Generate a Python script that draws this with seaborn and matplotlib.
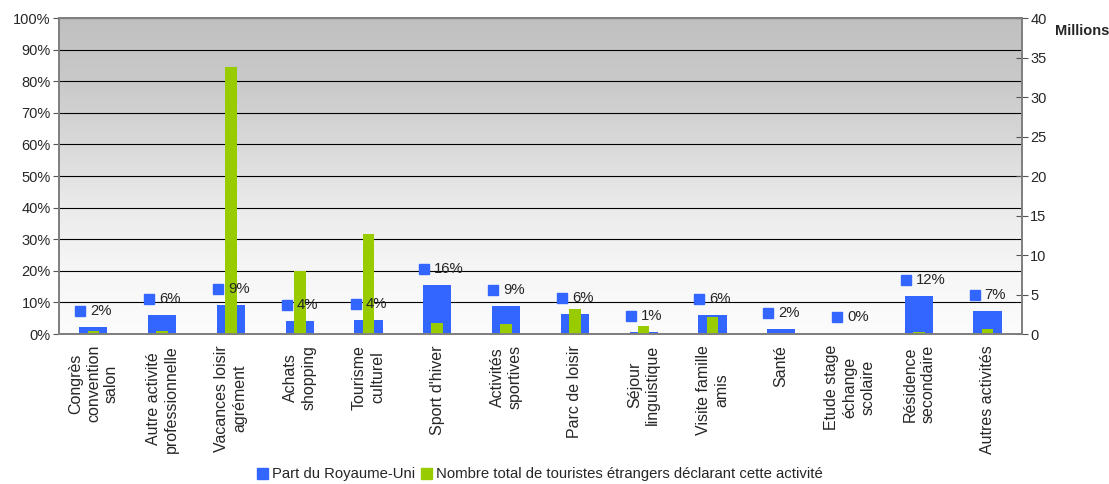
import numpy as np
import pandas as pd
import matplotlib
matplotlib.use("Agg")
import matplotlib.pyplot as plt
import matplotlib.transforms as mtransforms
from matplotlib.colors import LinearSegmentedColormap
from matplotlib.patches import Patch
from matplotlib.ticker import FuncFormatter, MultipleLocator
import seaborn as sns

sns.set_style("white")
plt.rcParams['font.family'] = ['Liberation Sans', 'DejaVu Sans']

# données
categories = ["Congrès\nconvention\nsalon", "Autre activité\nprofessionnelle",
              "Vacances loisir\nagrément", "Achats\nshopping", "Tourisme\nculturel",
              "Sport d'hiver", "Activités\nsportives", "Parc de loisir",
              "Séjour\nlinguistique", "Visite famille\namis", "Santé",
              "Etude stage\néchange\nscolaire", "Résidence\nsecondaire", "Autres activités"]
part_ru = [2.2, 6.0, 9.2, 4.1, 4.4, 15.6, 8.9, 6.3, 0.6, 6.0, 1.6, 0.3, 12.0, 7.3]  # %
total_touristes = [0.4, 0.4, 33.8, 8.0, 12.7, 1.4, 1.3, 3.2, 1.0, 2.2, 0.05, 0.0, 0.25, 0.6]  # millions

serie_ru = "Part du Royaume-Uni"
serie_tot = "Nombre total de touristes étrangers déclarant cette activité"
blue = "#3366FF"
green = "#99CC00"

df = pd.DataFrame({"cat": categories, "part": part_ru, "total": total_touristes})

fig = plt.figure(figsize=(11.09, 4.84), dpi=100)
ax = fig.add_axes([0.0532, 0.3099, 0.9215 - 0.0532, 0.9628 - 0.3099])
ax2 = ax.twinx()

sns.barplot(data=df, x="cat", y="part", ax=ax, color=blue, saturation=1, width=0.41,
            linewidth=0, edgecolor="none", zorder=2)
sns.barplot(data=df, x="cat", y="total", ax=ax2, color=green, saturation=1, width=0.17,
            linewidth=0, edgecolor="none", zorder=2)

n = len(categories)
ax.set_xlim(-0.5, n - 0.5)
ax.set_ylim(0, 100)
ax2.set_ylim(0, 40)

# fond dégradé gris -> blanc
cmap = LinearSegmentedColormap.from_list(
    "fond", [(0, "#fcfcfc"), (0.2, "#f6f6f6"), (0.4, "#ebebeb"),
             (0.6, "#d9d9d9"), (0.8, "#c9c9c9"), (1, "#c0c0c0")])
grad = np.linspace(0, 1, 256).reshape(-1, 1)
ax.imshow(grad, extent=[-0.5, n - 0.5, 0, 100], origin="lower", aspect="auto",
          cmap=cmap, zorder=0)
ax.patch.set_visible(False)

ax.yaxis.set_major_locator(MultipleLocator(10))
ax.yaxis.set_major_formatter(FuncFormatter(lambda y, _: f"{int(y)}%"))
ax.yaxis.grid(True, color="black", lw=0.8)
ax.set_axisbelow(True)
ax2.yaxis.set_major_locator(MultipleLocator(5))

ax.set_xticks(np.arange(n + 1) - 0.5, minor=False)
ax.set_xticklabels([])
ax.set_xticks(np.arange(n), minor=True)
ax.set_xticklabels(categories, minor=True, rotation=90, fontsize=11.5,
                   ha="center", va="top", multialignment="center", linespacing=1.25)
ax.tick_params(axis="x", which="major", direction="out", length=5, color="#555555")
ax.tick_params(axis="x", which="minor", length=0, pad=8)
ax.tick_params(axis="y", direction="out", length=4, labelsize=10.5, color="#555555", pad=2)
ax2.tick_params(axis="y", direction="inout", length=8, labelsize=10.5, color="#555555", pad=2)
ax.set_xlabel("")
ax.set_ylabel("")
ax2.set_ylabel("")

for a in (ax, ax2):
    for s in a.spines.values():
        s.set_color("#808080")
        s.set_linewidth(1.3)

# étiquettes : carré bleu + pourcentage
sq_tr = mtransforms.offset_copy(ax.transData, fig=fig, x=-13, y=16, units="dots")
for i, v in enumerate(part_ru):
    ax2.plot(i, v, marker="s", ms=7, color=blue, transform=sq_tr, zorder=5, clip_on=False)
    ax2.annotate(f"{v:.0f}%", xy=(i, v), xycoords=ax.transData, xytext=(-3, 16),
                 textcoords="offset pixels", ha="left", va="center", fontsize=10.7,
                 zorder=6, annotation_clip=False)
ax.set_xlim(-0.5, n - 0.5)
ax2.set_xlim(-0.5, n - 0.5)
ax2.set_ylim(0, 40)

fig.text(0.951, 0.936, "Millions", fontsize=10.5, fontweight="bold", ha="left", va="center")

handles = [Patch(color=blue, label=serie_ru), Patch(color=green, label=serie_tot)]
fig.legend(handles=handles, loc="lower center", bbox_to_anchor=(0.487, -0.022), ncol=2,
           frameon=False, fontsize=10.7, handlelength=0.75, handleheight=0.75,
           handletextpad=0.25, columnspacing=0.4)

fig.savefig("out.png", dpi=100)
